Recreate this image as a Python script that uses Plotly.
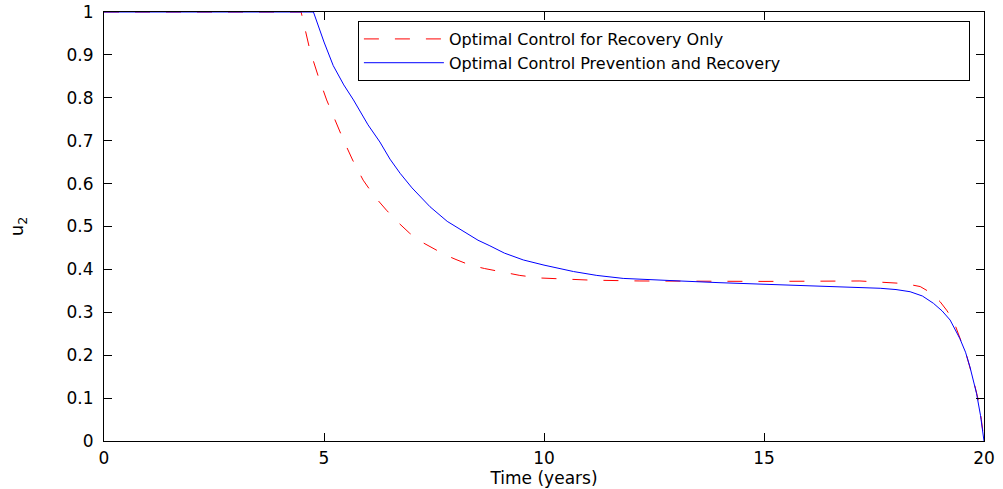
import plotly.graph_objects as go

# Optimal control u2 over a 20-year horizon, two strategies
t_recovery = [0, 4.48, 4.68, 4.87, 5.06, 5.25, 5.44, 5.65, 5.89, 6.15, 6.42, 6.7, 6.95, 7.2,
              7.48, 7.75, 8.0, 8.32, 8.65, 9.0, 9.45, 9.91, 10.5, 11.05, 12.18, 13.32, 15.0,
              17.18, 17.86, 18.2, 18.55, 18.8, 19.0, 19.15, 19.30, 19.45, 19.61, 19.76,
              19.87, 19.94, 20.0]
u2_recovery = [1, 1, 0.911, 0.850, 0.795, 0.747, 0.702, 0.655, 0.608, 0.570, 0.538, 0.508,
               0.484, 0.465, 0.449, 0.434, 0.423, 0.410, 0.402, 0.395, 0.386, 0.380, 0.377,
               0.375, 0.373, 0.372, 0.372, 0.373, 0.370, 0.367, 0.360, 0.345, 0.325, 0.305,
               0.282, 0.239, 0.197, 0.142, 0.096, 0.050, 0.0]

t_prev_rec = [0, 4.76, 5.0, 5.21, 5.45, 5.67, 6.0, 6.27, 6.5, 6.73, 7.0, 7.41, 7.8, 8.17,
              8.5, 8.77, 9.1, 9.53, 10.0, 10.67, 11.2, 11.8, 12.5, 13.09, 14.0, 15.36, 16.3,
              17.18, 17.64, 18.0, 18.32, 18.6, 18.85, 19.05, 19.23, 19.45, 19.58, 19.68,
              19.83, 19.92, 20.0]
u2_prev_rec = [1, 1, 0.930, 0.875, 0.830, 0.795, 0.737, 0.697, 0.657, 0.624, 0.590, 0.546,
               0.512, 0.488, 0.468, 0.455, 0.438, 0.422, 0.410, 0.395, 0.386, 0.379, 0.375,
               0.373, 0.369, 0.364, 0.361, 0.358, 0.356, 0.353, 0.348, 0.338, 0.321, 0.303,
               0.282, 0.239, 0.207, 0.173, 0.111, 0.060, 0.0]

x_ticks = [0, 5, 10, 15, 20]
y_ticks = [0, 0.1, 0.2, 0.3, 0.4, 0.5, 0.6, 0.7, 0.8, 0.9, 1]
y_tick_text = ["0", "0.1", "0.2", "0.3", "0.4", "0.5", "0.6", "0.7", "0.8", "0.9", "1"]

FONT = "DejaVu Sans, Liberation Sans, Arial, sans-serif"

fig = go.Figure()
fig.add_trace(go.Scatter(
    x=t_recovery, y=u2_recovery, mode="lines",
    name="Optimal Control for Recovery Only",
    line=dict(color="#ff0000", width=1, dash="15px,16px"),
))
fig.add_trace(go.Scatter(
    x=t_prev_rec, y=u2_prev_rec, mode="lines",
    name="Optimal Control Prevention and Recovery",
    line=dict(color="#0000ff", width=1),
))

axis_common = dict(
    showline=True, linecolor="black", linewidth=1, mirror="ticks",
    ticks="inside", ticklen=8, tickcolor="black", tickwidth=1,
    showgrid=False, zeroline=False, automargin=False,
    tickfont=dict(family=FONT, size=17, color="black"),
)

fig.update_xaxes(
    range=[0, 20], tickvals=x_ticks, ticktext=[str(v) for v in x_ticks],
    ticklabelstandoff=2,
    title=dict(text="Time (years)", font=dict(family=FONT, size=17, color="black"), standoff=3),
    **axis_common,
)
fig.update_yaxes(
    range=[0, 1], tickvals=y_ticks, ticktext=y_tick_text,
    ticklabelstandoff=6,
    title=dict(text="u<sub>2</sub>", font=dict(family=FONT, size=18, color="black"), standoff=38),
    **axis_common,
)

fig.update_layout(
    width=1003, height=489,
    margin=dict(l=104, r=19, t=12, b=48),
    paper_bgcolor="white", plot_bgcolor="white",
    font=dict(family=FONT, size=17, color="black"),
    showlegend=True,
    legend=dict(
        orientation="h",
        x=0.984, y=0.979, xanchor="right", yanchor="top",
        bgcolor="white", bordercolor="black", borderwidth=1,
        font=dict(family=FONT, size=16, color="black"),
        tracegroupgap=0, itemwidth=80, entrywidth=515, entrywidthmode="pixels",
    ),
)

fig.write_html("out.html")
